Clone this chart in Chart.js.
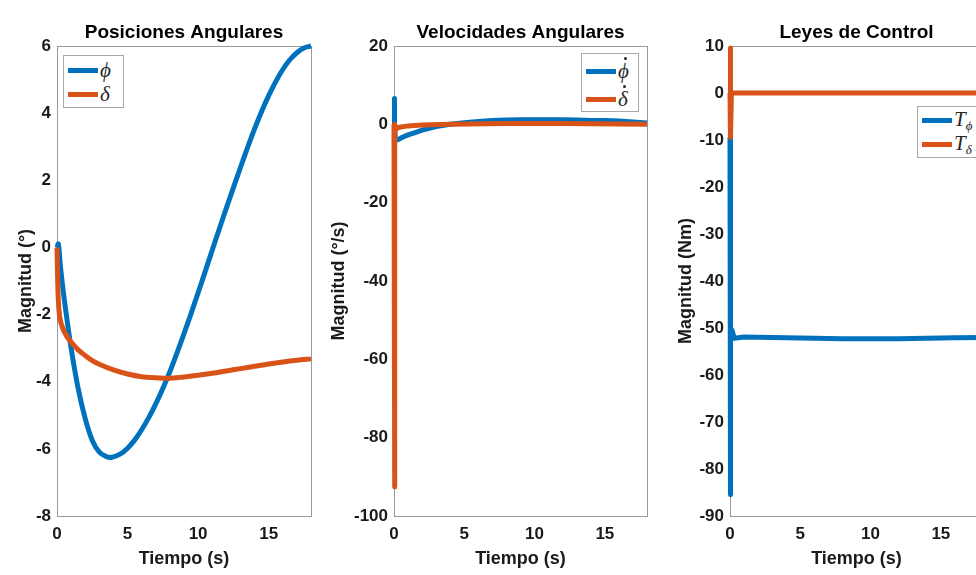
<!DOCTYPE html>
<html lang="es">
<head>
<meta charset="UTF-8">
<title>Posiciones, Velocidades y Leyes de Control</title>
<script src="https://cdn.jsdelivr.net/npm/chart.js"></script>
<style>
    body {
        margin: 0;
        width: 976px;
        height: 575px;
        overflow: hidden;
        background: #fff;
        position: relative;
        font-family: "Liberation Sans", Arial, sans-serif;
    }
    canvas { position: absolute; top: 0; }
    .legend {
        position: absolute;
        background: #fff;
        border: 1px solid #a8a8a8;
        font-family: "Liberation Serif", "DejaVu Serif", serif;
        font-style: italic;
        font-size: 21px;
        color: #262626;
        padding: 0 4px 0 4px;
        box-sizing: border-box;
    }
    .legend .row { display: flex; align-items: center; white-space: nowrap; }
    .legend .sw { width: 30px; height: 5px; margin-right: 2px; flex: none; }
    .legend sub { font-size: 13px; vertical-align: -4px; }
    /* dot accent for the time derivatives */
    .legend .acc { position: relative; display: inline-block; line-height: 24px; }
    .legend .acc::after {
        content: "";
        position: absolute;
        left: 55%;
        top: -2px;
        width: 3px;
        height: 3px;
        border-radius: 50%;
        background: #262626;
    }
</style>
</head>
<body>

<canvas id="posChart"></canvas>
<canvas id="velChart"></canvas>
<canvas id="ctrlChart"></canvas>

<script>
    // ---- data ----
    const xTicks = [0, 5, 10, 15];

    // Posiciones Angulares
    const phiT   = [0, 0.1, 0.25, 0.5, 1, 1.5, 2, 2.5, 3, 3.5, 3.9, 4.5, 5, 5.5, 6, 6.5, 7, 7.5, 8, 8.5, 9, 9.5, 10, 10.5, 11, 11.5, 12, 12.5, 13, 13.5, 14, 14.5, 15, 15.5, 16, 16.5, 17, 17.5, 18];
    const phiVal = [0, 0.1, -0.6, -1.5, -3.0, -4.2, -5.1, -5.75, -6.1, -6.23, -6.25, -6.15, -5.98, -5.74, -5.43, -5.07, -4.66, -4.2, -3.7, -3.15, -2.57, -1.97, -1.35, -0.72, -0.08, 0.55, 1.17, 1.78, 2.38, 2.97, 3.53, 4.05, 4.52, 4.94, 5.3, 5.59, 5.8, 5.94, 6.0];
    const deltaT   = [0, 0.05, 0.1, 0.2, 0.4, 0.7, 1, 1.5, 2, 2.5, 3, 4, 5, 6, 7, 7.8, 9, 10, 11, 12, 13, 14, 15, 16, 17, 18];
    const deltaVal = [0, -1.0, -1.6, -2.1, -2.4, -2.65, -2.82, -3.05, -3.22, -3.37, -3.48, -3.65, -3.77, -3.85, -3.88, -3.9, -3.86, -3.81, -3.75, -3.68, -3.61, -3.54, -3.47, -3.41, -3.36, -3.32];
    const posTicks = [-8, -6, -4, -2, 0, 2, 4, 6];

    // Velocidades Angulares
    const dphiT   = [0, 0.02, 0.05, 0.1, 0.3, 0.6, 1, 1.5, 2, 2.5, 3, 4, 5, 6, 7, 8, 9, 10, 11, 12, 13, 14, 15, 16, 17, 18];
    const dphiVal = [0, 6.6, 0, -4.1, -3.9, -3.3, -2.7, -2.1, -1.5, -1.0, -0.55, 0.0, 0.4, 0.7, 0.95, 1.1, 1.2, 1.2, 1.2, 1.15, 1.1, 1.0, 0.95, 0.85, 0.6, 0.35];
    const ddeltaT   = [0, 0.03, 0.07, 0.3, 1, 2, 4, 8, 12, 18];
    const ddeltaVal = [0, -92.6, -1.5, -0.8, -0.4, -0.2, 0.0, 0.2, 0.2, 0.0];
    const velTicks = [-100, -80, -60, -40, -20, 0, 20];

    // Leyes de Control
    const tphiT   = [0, 0.02, 0.05, 0.15, 0.3, 1, 4, 8, 12, 16, 18];
    const tphiVal = [-9.4, -85.5, -50, -50.5, -52.2, -51.9, -52.1, -52.3, -52.3, -52.1, -52.0];
    const tdeltaT   = [0, 0.02, 0.05, 0.1, 18];
    const tdeltaVal = [0, 9.6, -9.4, 0, 0];
    const ctrlTicks = [-90, -80, -70, -60, -50, -40, -30, -20, -10, 0, 10];

    const blue = '#0072BD';
    const orange = '#D95319';
    const frame = '#9a9a9a';
    const ink = '#1a1a1a';

    function pts(t, v) {
        return t.map((x, i) => ({ x: x, y: v[i] }));
    }

    function makePanel(opt) {
        const canvas = document.getElementById(opt.id);
        canvas.width = opt.width;
        canvas.height = 575;
        canvas.style.left = opt.left + 'px';
        canvas.style.width = opt.width + 'px';
        canvas.style.height = '575px';

        const rightPad = opt.width - opt.yWidth - opt.plotWidth;
        const tickFont = { family: '"Liberation Sans", Arial, sans-serif', size: 17, weight: 'bold' };
        const axisFont = { family: '"Liberation Sans", Arial, sans-serif', size: 18, weight: 'bold' };

        const chart = new Chart(canvas, {
            type: 'line',
            data: {
                datasets: [{
                    label: opt.labels[0],
                    data: pts(opt.series[0][0], opt.series[0][1]),
                    borderColor: blue,
                    order: 1
                }, {
                    label: opt.labels[1],
                    data: pts(opt.series[1][0], opt.series[1][1]),
                    borderColor: orange,
                    order: 0
                }]
            },
            options: {
                responsive: false,
                animation: false,
                parsing: false,
                layout: { padding: { left: 0, right: rightPad, top: 0, bottom: 0 } },
                elements: {
                    point: { radius: 0 },
                    line: { borderWidth: 5, borderJoinStyle: 'round', borderCapStyle: 'butt', tension: opt.tension, fill: false }
                },
                datasets: { line: { clip: false } },
                plugins: {
                    legend: { display: false },
                    tooltip: { enabled: false },
                    title: {
                        display: true,
                        text: opt.title,
                        color: '#000',
                        fullSize: false,
                        font: { family: '"Liberation Sans", Arial, sans-serif', size: 19, weight: 'bold' },
                        padding: { top: 21, bottom: 2.2 }
                    }
                },
                scales: {
                    x: {
                        type: 'linear', position: 'bottom', min: 0, max: 18,
                        afterFit: s => { s.height = 59; },
                        afterBuildTicks: s => { s.ticks = xTicks.map(v => ({ value: v })); },
                        grid: { display: false, drawTicks: false },
                        border: { display: true, color: frame, width: 1 },
                        ticks: { padding: 8, autoSkip: false, maxRotation: 0, color: ink, font: tickFont },
                        title: { display: true, text: 'Tiempo (s)', color: ink, font: axisFont, padding: { top: 0, bottom: 5 } }
                    },
                    y: {
                        type: 'linear', position: 'left', min: opt.yTicks[0], max: opt.yTicks[opt.yTicks.length - 1],
                        afterFit: s => { s.width = opt.yWidth; },
                        afterBuildTicks: s => { s.ticks = opt.yTicks.map(v => ({ value: v })); },
                        grid: { display: false, drawTicks: false },
                        border: { display: true, color: frame, width: 1 },
                        ticks: { padding: 6, autoSkip: false, color: ink, font: tickFont },
                        title: { display: true, text: opt.yTitle, color: ink, font: axisFont, padding: { top: 15, bottom: 0 } }
                    },
                    xTop: {
                        type: 'linear', position: 'top', min: 0, max: 18,
                        afterFit: s => { s.height = 0; },
                        grid: { display: false, drawTicks: false },
                        border: { display: true, color: frame, width: 1 },
                        ticks: { display: false }
                    },
                    yRight: {
                        type: 'linear', position: 'right', min: opt.yTicks[0], max: opt.yTicks[opt.yTicks.length - 1],
                        afterFit: s => { s.width = 0; },
                        grid: { display: false, drawTicks: false },
                        border: { display: true, color: frame, width: 1 },
                        ticks: { display: false }
                    }
                }
            }
        });

        // HTML legend so the symbols can carry dots and subscripts
        const box = document.createElement('div');
        box.className = 'legend';
        box.style.left = opt.legend.left + 'px';
        box.style.top = opt.legend.top + 'px';
        if (opt.legend.width) box.style.width = opt.legend.width + 'px';
        box.style.height = opt.legend.height + 'px';
        box.style.paddingTop = opt.legend.padTop + 'px';
        chart.data.datasets.forEach(ds => {
            const row = document.createElement('div');
            row.className = 'row';
            row.style.height = opt.legend.rowHeight + 'px';
            row.innerHTML = '<span class="sw" style="background:' + ds.borderColor + '"></span><span>' + ds.label + '</span>';
            box.appendChild(row);
        });
        document.body.appendChild(box);
        return chart;
    }

    makePanel({
        id: 'posChart', left: 0, width: 330, yWidth: 57, plotWidth: 254, tension: 0.35,
        title: 'Posiciones Angulares', yTitle: 'Magnitud (°)', yTicks: posTicks,
        labels: ['\u03D5', '\u03B4'],
        series: [[phiT, phiVal], [deltaT, deltaVal]],
        legend: { left: 63, top: 55, width: 61, height: 53, padTop: 2, rowHeight: 24 }
    });

    makePanel({
        id: 'velChart', left: 313, width: 350, yWidth: 81, plotWidth: 253, tension: 0,
        title: 'Velocidades Angulares', yTitle: 'Magnitud (°/s)', yTicks: velTicks,
        labels: ['<span class="acc">\u03D5</span>', '<span class="acc">\u03B4</span>'],
        series: [[dphiT, dphiVal], [ddeltaT, ddeltaVal]],
        legend: { left: 581, top: 53, width: 58, height: 59, padTop: 3, rowHeight: 28 }
    });

    makePanel({
        id: 'ctrlChart', left: 660, width: 340, yWidth: 70, plotWidth: 253, tension: 0,
        title: 'Leyes de Control', yTitle: 'Magnitud (Nm)', yTicks: ctrlTicks,
        labels: ['T<sub>\u03D5</sub>', 'T<sub>\u03B4</sub>'],
        series: [[tphiT, tphiVal], [tdeltaT, tdeltaVal]],
        legend: { left: 917, top: 106, width: 80, height: 52, padTop: 1, rowHeight: 24 }
    });
</script>
</body>
</html>
